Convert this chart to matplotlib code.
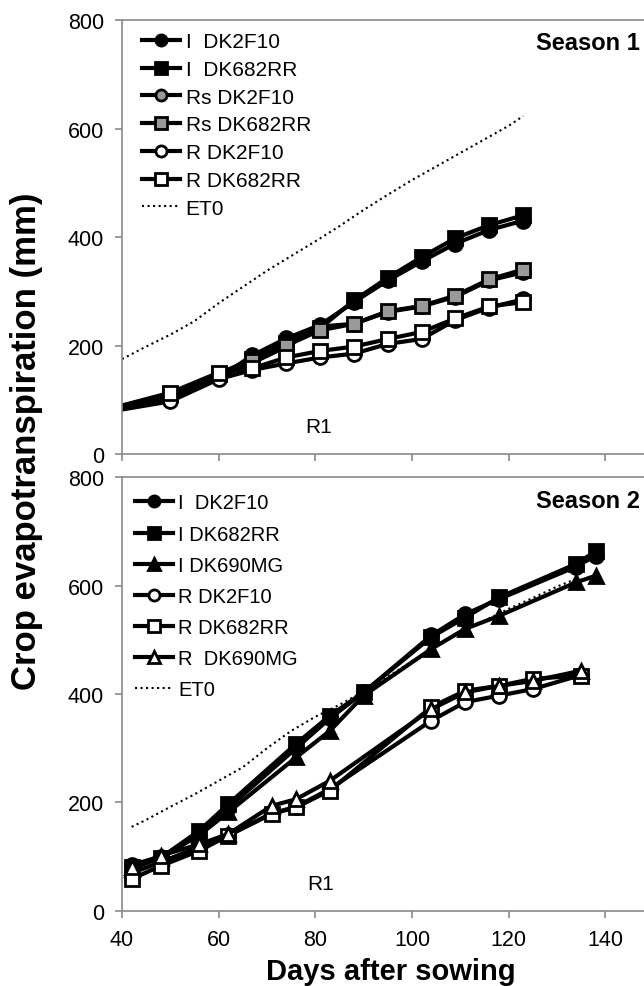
import matplotlib
matplotlib.use("Agg")
import matplotlib.pyplot as plt

plt.rcParams['font.family'] = ['Liberation Sans', 'DejaVu Sans']

# season 1
days1 = [36, 50, 60, 67, 74, 81, 88, 95, 102, 109, 116, 123]
i_dk2f10_1 = [78, 103, 140, 182, 213, 238, 280, 320, 355, 388, 413, 430]
i_dk682rr_1 = [80, 110, 148, 175, 205, 232, 283, 325, 363, 398, 422, 440]
rs_dk2f10_1 = [78, 105, 142, 168, 198, 235, 240, 262, 272, 290, 320, 335]
rs_dk682rr_1 = [80, 110, 148, 172, 200, 228, 240, 263, 273, 292, 322, 340]
r_dk2f10_1 = [76, 97, 138, 155, 167, 178, 185, 203, 212, 247, 270, 285]
r_dk682rr_1 = [80, 113, 150, 158, 178, 190, 198, 212, 225, 250, 272, 280]
et0_days1 = [40, 45, 50, 55, 60, 65, 70, 75, 80, 85, 90, 95, 100, 105, 110, 115, 120, 123]
et0_1 = [175, 198, 220, 245, 278, 308, 338, 365, 392, 420, 450, 478, 505, 530, 555, 580, 605, 623]

# season 2
days2_i = [42, 48, 56, 62, 76, 83, 90, 104, 111, 118, 134, 138]
days2_r = [42, 48, 56, 62, 71, 76, 83, 104, 111, 118, 125, 135]
i_dk2f10_2 = [85, 100, 140, 190, 300, 355, 403, 508, 547, 575, 635, 655]
i_dk682rr_2 = [82, 98, 148, 197, 308, 360, 403, 505, 541, 578, 640, 663]
i_dk690mg_2 = [78, 98, 140, 182, 283, 332, 397, 483, 520, 544, 606, 618]
r_dk2f10_2 = [70, 90, 118, 140, 180, 192, 225, 351, 385, 397, 409, 435]
r_dk682rr_2 = [59, 83, 111, 139, 179, 191, 222, 376, 406, 415, 428, 434]
r_dk690mg_2 = [81, 102, 123, 142, 194, 206, 240, 372, 403, 415, 424, 443]
et0_days2 = [42, 45, 50, 55, 60, 65, 70, 75, 80, 85, 90, 95, 100, 105, 110, 115, 120, 125, 130, 134]
et0_2 = [155, 168, 192, 215, 240, 265, 300, 332, 358, 380, 405, 432, 460, 490, 515, 535, 557, 577, 598, 612]

grey = '#8a8a8a'
fig = plt.figure(figsize=(6.44, 9.87), dpi=100)
ax1 = fig.add_axes([0.1894, 0.539, 0.8106, 0.4397])
ax2 = fig.add_axes([0.1894, 0.076, 0.8106, 0.4397])


def series(ax, d, v, marker, face, label):
    ax.plot(d, v, color='k', lw=3, marker=marker, ms=10, mfc=face, mec='k', mew=2, label=label)


def style(ax):
    ax.set_xlim(40, 148)
    ax.set_ylim(0, 800)
    ax.set_xticks([40, 60, 80, 100, 120, 140])
    ax.set_yticks([0, 200, 400, 600, 800])
    ax.spines['right'].set_visible(False)
    for s in ['left', 'bottom', 'top']:
        ax.spines[s].set_color(grey)
        ax.spines[s].set_linewidth(1.2)
    ax.tick_params(direction='out', length=5, width=1.2, color=grey, labelsize=15.5, pad=8)


series(ax1, days1, i_dk2f10_1, 'o', 'k', 'I  DK2F10')
series(ax1, days1, i_dk682rr_1, 's', 'k', 'I  DK682RR')
series(ax1, days1, rs_dk2f10_1, 'o', '#999999', 'Rs DK2F10')
series(ax1, days1, rs_dk682rr_1, 's', '#999999', 'Rs DK682RR')
series(ax1, days1, r_dk2f10_1, 'o', 'white', 'R DK2F10')
series(ax1, days1, r_dk682rr_1, 's', 'white', 'R DK682RR')
ax1.plot(et0_days1, et0_1, color='k', lw=1.5, ls=':', label='ET0')
style(ax1)
ax1.tick_params(labelbottom=False)
ax1.legend(loc='upper left', bbox_to_anchor=(0.038, 0.972), frameon=False, fontsize=15,
           handlelength=1.85, handletextpad=0.25, labelspacing=0.42, borderaxespad=0,
           borderpad=0, markerscale=0.8)
ax1.text(80.6, 50, 'R1', ha='center', va='center', fontsize=15)
ax1.text(0.992, 0.949, 'Season 1', transform=ax1.transAxes, ha='right', va='center',
         fontsize=17, fontweight='bold')

series(ax2, days2_i, i_dk2f10_2, 'o', 'k', 'I  DK2F10')
series(ax2, days2_i, i_dk682rr_2, 's', 'k', 'I DK682RR')
series(ax2, days2_i, i_dk690mg_2, '^', 'k', 'I DK690MG')
series(ax2, days2_r, r_dk2f10_2, 'o', 'white', 'R DK2F10')
series(ax2, days2_r, r_dk682rr_2, 's', 'white', 'R DK682RR')
series(ax2, days2_r, r_dk690mg_2, '^', 'white', 'R  DK690MG')
ax2.plot(et0_days2, et0_2, color='k', lw=1.5, ls=':', label='ET0')
style(ax2)
ax2.legend(loc='upper left', bbox_to_anchor=(0.025, 0.962), frameon=False, fontsize=14.5,
           handlelength=1.9, handletextpad=0.25, labelspacing=0.6, borderaxespad=0,
           borderpad=0, markerscale=0.8)
ax2.text(81, 50, 'R1', ha='center', va='center', fontsize=15)
ax2.text(0.992, 0.945, 'Season 2', transform=ax2.transAxes, ha='right', va='center',
         fontsize=17, fontweight='bold')

fig.text(27 / 644, 1 - 441 / 987, 'Crop evapotranspiration (mm)', rotation=90,
         ha='center', va='center', fontsize=25, fontweight='bold')
fig.text(0.607, 0.0152, 'Days after sowing', ha='center', va='center',
         fontsize=21, fontweight='bold')

fig.savefig('out.png', dpi=100)
